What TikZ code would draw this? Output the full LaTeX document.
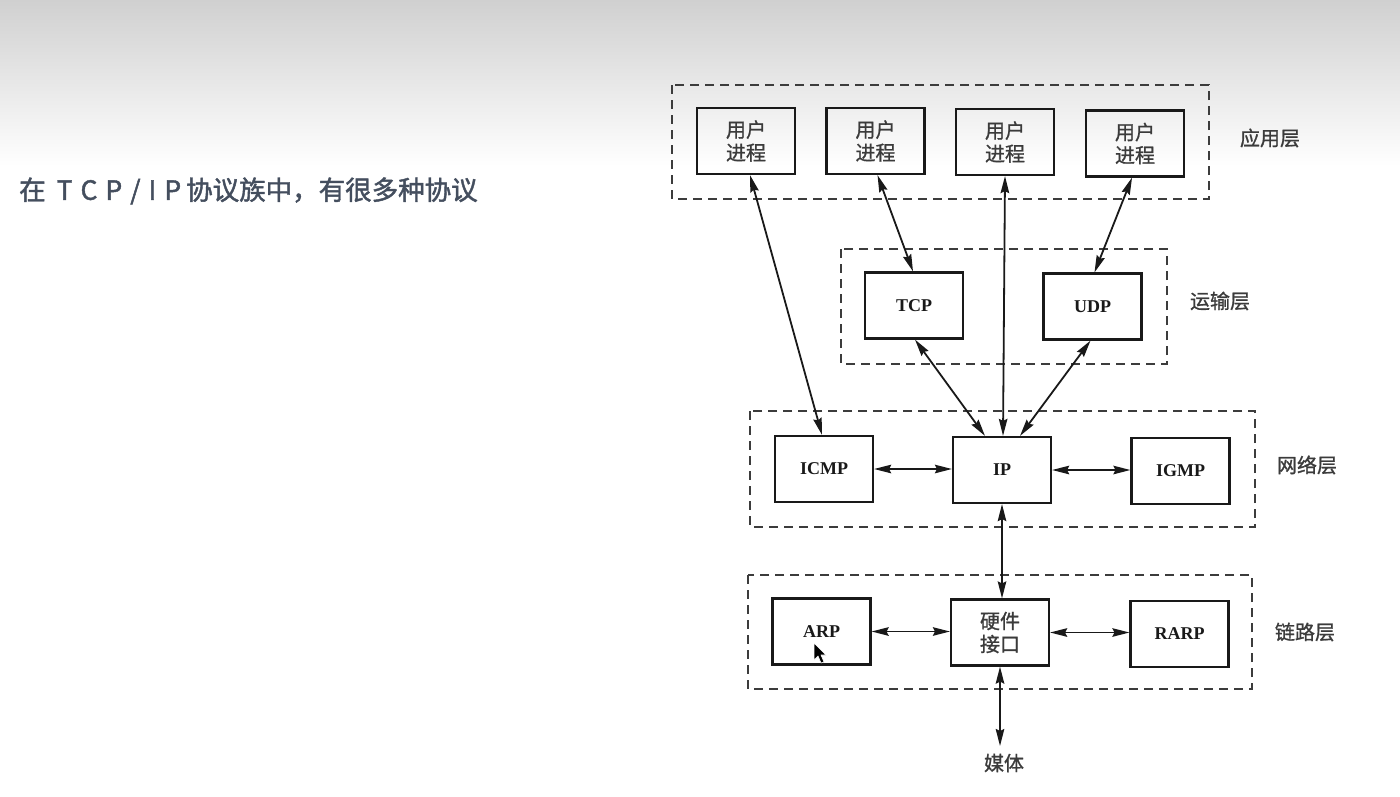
\documentclass[tikz,border=0pt]{standalone}
\usepackage{fontspec}
\setmainfont{Liberation Serif}
\newfontfamily\cjk{Noto Sans CJK SC}
\newfontfamily\cjkb[FakeBold=1.0]{Noto Sans CJK SC}
\newfontfamily\cjkt[FakeBold=1.6]{Noto Sans CJK SC}
\usetikzlibrary{arrows.meta,calc}
\definecolor{ink}{RGB}{25,25,25}
\definecolor{titlecol}{RGB}{68,78,94}
\definecolor{topgray}{RGB}{208,208,208}
\begin{document}
\begin{tikzpicture}[x=1pt,y=-1pt,
  proto/.style={draw=ink,line width=2.2pt,minimum width=98pt,minimum height=66pt,inner sep=0pt,text=ink,font=\bfseries\fontsize{18}{22}\selectfont},
  cproto/.style={proto,font=\cjkb\fontsize{20}{23}\selectfont,align=center,text=ink!85},
  layerbox/.style={draw=ink!85,line width=2pt,dash pattern=on 9pt off 6pt},
  layerlabel/.style={font=\cjkb\fontsize{20}{24}\selectfont,text=ink!85,inner sep=0pt},
  biarrow/.style={draw=ink,line width=1.8pt,{Stealth[length=17pt,width=8.5pt,inset=2pt]}-{Stealth[length=17pt,width=8.5pt,inset=2pt]}},
]
\useasboundingbox (0,0) rectangle (1400,796);
\fill[white] (0,0) rectangle (1400,796);
\shade[top color=topgray,bottom color=white] (0,0) rectangle (1400,166);

% title
\node[anchor=west,inner sep=0pt,text=titlecol,font=\cjkt\fontsize{26.5}{30}\selectfont] (title) at (19,191)
 {在\hspace{11pt}T\hspace{8pt}C\hspace{8pt}P\hspace{8pt}/\hspace{8pt}I\hspace{8pt}P\hspace{5pt}协议族中，有很多种协议};

% layer boxes
\draw[layerbox] (672,85) rectangle (1209,199);
\draw[layerbox] (841,249) rectangle (1167,364);
\draw[layerbox] (750,411) rectangle (1255,527);
\draw[layerbox] (748,575) rectangle (1252,689);

% layer labels
\node[layerlabel] (lapp) at (1270,138) {应用层};
\node[layerlabel] (ltra) at (1220,301) {运输层};
\node[layerlabel] (lnet) at (1307,465) {网络层};
\node[layerlabel] (llnk) at (1305,632) {链路层};

% application
\node[cproto] (u1) at (746,141) {用户\\进程};
\node[cproto] (u2) at (875.5,141) {用户\\进程};
\node[cproto] (u3) at (1005,142) {用户\\进程};
\node[cproto] (u4) at (1135,143.5) {用户\\进程};

% transport
\node[proto] (tcp) at (914,305.5) {TCP};
\node[proto] (udp) at (1092.5,306.5) {UDP};

% network
\node[proto] (icmp) at (824,469) {ICMP};
\node[proto] (ip) at (1002,470) {IP};
\node[proto] (igmp) at (1180.5,471) {IGMP};

% link
\node[proto] (arp) at (821.5,631.5) {ARP};
\node[cproto] (hw) at (1000,632.5) {硬件\\接口};
\node[proto] (rarp) at (1179.5,634) {RARP};

% media
\coordinate (mend) at (1000,746);
\node[font=\cjkb\fontsize{20}{22}\selectfont,text=ink!85,inner sep=0pt] (media) at (1004,763) {媒体};

% connectors
\draw[biarrow] ($(u1.south)+(4,0)$) -- ($(icmp.north)+(-2,0)$);
\draw[biarrow] ($(u2.south)+(2,0)$) -- ($(tcp.north)+(-1,0)$);
\draw[biarrow] (u3.south) -- ($(ip.north)+(1,0)$);
\draw[biarrow] ($(u4.south)+(-3,0)$) -- ($(udp.north)+(2,0)$);
\draw[biarrow] ($(tcp.south)+(1,0)$) -- ($(ip.north)+(-17,0)$);
\draw[biarrow] ($(udp.south)+(-2,0)$) -- ($(ip.north)+(18,0)$);
\draw[biarrow] (icmp.east) -- (icmp.east -| ip.west);
\draw[biarrow] (ip.east) -- (ip.east -| igmp.west);
\draw[biarrow] (ip.south) -- (ip.south |- hw.north);
\draw[biarrow] (arp.east) -- (arp.east -| hw.west);
\draw[biarrow] (hw.east) -- (hw.east -| rarp.west);
\draw[biarrow] (hw.south) -- (hw.south |- mend);

% mouse pointer
\filldraw[fill=black,draw=white,line width=0.6pt,line join=round]
  (814,643) -- (814,660) -- (818,656) -- (821,663) -- (824,662) -- (821,655) -- (826,655) -- cycle;
\end{tikzpicture}
\end{document}
